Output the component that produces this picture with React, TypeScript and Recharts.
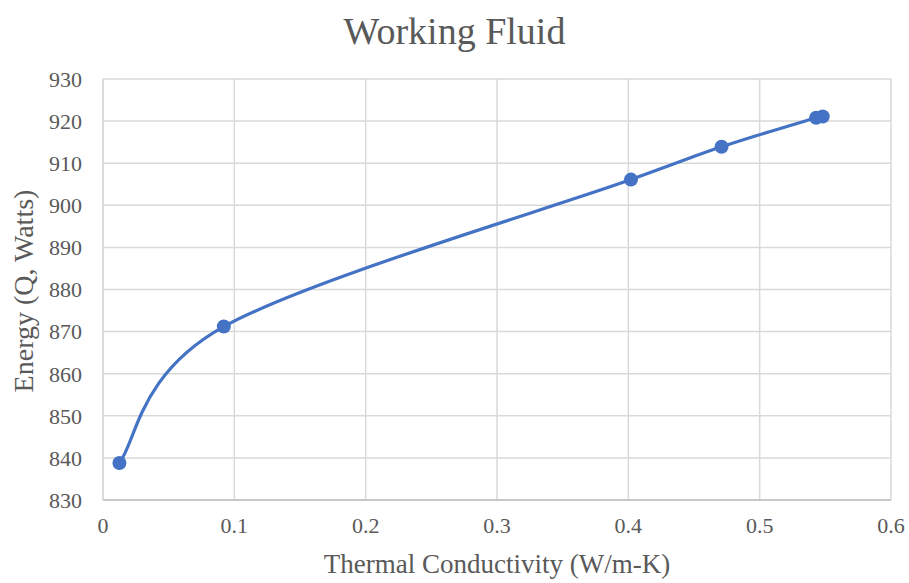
import React from "react";
import { LineChart, Line, XAxis, YAxis, CartesianGrid } from "recharts";

const conductivity = [0.0125, 0.092, 0.402, 0.471, 0.543, 0.548];
const energy = [838.8, 871.2, 906.1, 913.9, 920.8, 921.1];
const xTicks = [0, 0.1, 0.2, 0.3, 0.4, 0.5, 0.6];
const yTicks = [830, 840, 850, 860, 870, 880, 890, 900, 910, 920, 930];

const data = conductivity.map((x, i) => ({ x, y: energy[i] }));

const FONT = '"Liberation Serif", "Times New Roman", serif';
const TEXT = "#595959";

// Excel-like smoothed line (Catmull-Rom through the points)
const smoothCurve = (context: any) => {
  let pts: number[][] = [];
  return {
    areaStart() {},
    areaEnd() {},
    lineStart() {
      pts = [];
    },
    point(x: number, y: number) {
      pts.push([+x, +y]);
    },
    lineEnd() {
      const n = pts.length;
      if (!n) return;
      context.moveTo(pts[0][0], pts[0][1]);
      for (let i = 0; i < n - 1; i++) {
        const p0 = pts[Math.max(i - 1, 0)];
        const p1 = pts[i];
        const p2 = pts[i + 1];
        const p3 = pts[Math.min(i + 2, n - 1)];
        context.bezierCurveTo(
          p1[0] + (p2[0] - p0[0]) / 6,
          p1[1] + (p2[1] - p0[1]) / 6,
          p2[0] - (p3[0] - p1[0]) / 6,
          p2[1] - (p3[1] - p1[1]) / 6,
          p2[0],
          p2[1]
        );
      }
    },
  };
};

export default function App() {
  return (
    <div style={{ position: "absolute", left: 0, top: 0, width: 909, height: 583, background: "#fff", fontFamily: FONT }}>
      <div style={{ position: "absolute", left: 0, width: 909, top: 9, textAlign: "center", fontSize: 38, color: TEXT }}>
        Working Fluid
      </div>
      <div
        style={{
          position: "absolute",
          left: 24,
          top: 291,
          transform: "translate(-50%, -50%) rotate(-90deg)",
          whiteSpace: "nowrap",
          fontSize: 28,
          color: TEXT,
        }}
      >
        Energy (Q, Watts)
      </div>
      <LineChart width={909} height={583} data={data} margin={{ top: 79, right: 18, bottom: 0, left: 0 }}>
        <CartesianGrid stroke="#d9d9d9" strokeWidth={1.5} />
        <XAxis
          type="number"
          dataKey="x"
          domain={[0, 0.6]}
          ticks={xTicks}
          height={83}
          tickLine={false}
          tickMargin={11}
          axisLine={{ stroke: "#bfbfbf", strokeWidth: 1.5 }}
          tick={{ fill: TEXT, fontSize: 22, fontFamily: FONT }}
          label={{ value: "Thermal Conductivity (W/m-K)", position: "insideBottom", offset: 10, fill: TEXT, fontSize: 27, fontFamily: FONT }}
        />
        <YAxis
          type="number"
          domain={[830, 930]}
          ticks={yTicks}
          width={103}
          tickLine={false}
          tickMargin={15}
          axisLine={{ stroke: "#d9d9d9", strokeWidth: 1.5 }}
          tick={{ fill: TEXT, fontSize: 22, fontFamily: FONT }}
        />
        <Line
          dataKey="y"
          type={smoothCurve as any}
          stroke="#4472C4"
          strokeWidth={3.2}
          dot={{ r: 7, fill: "#4472C4", stroke: "#4472C4", strokeWidth: 0 }}
          activeDot={false}
          isAnimationActive={false}
        />
      </LineChart>
    </div>
  );
}
